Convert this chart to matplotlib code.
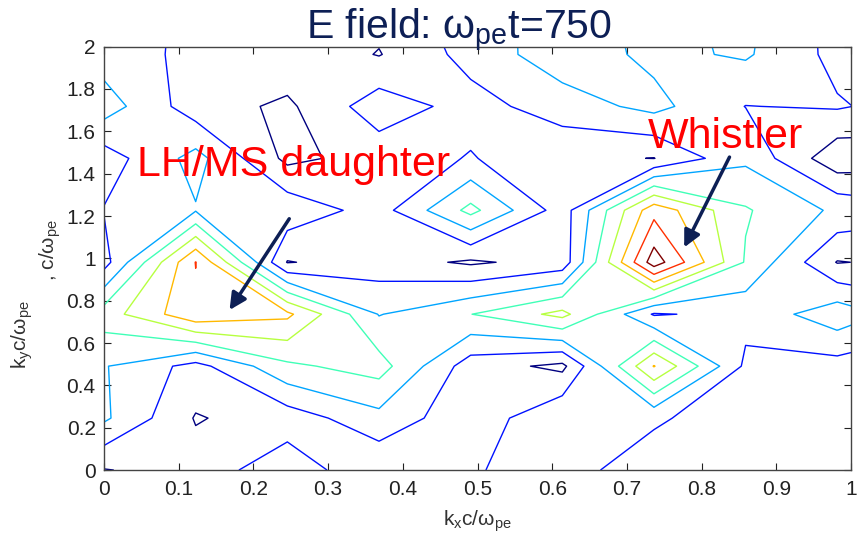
import numpy as np
import matplotlib.pyplot as plt

plt.rcParams['font.family'] = ['Liberation Sans', 'DejaVu Sans']
plt.rcParams['mathtext.fontset'] = 'custom'
plt.rcParams['mathtext.rm'] = 'Liberation Sans'
plt.rcParams['mathtext.it'] = 'Liberation Sans'

# grid of the spectrum (k in units of w_pe/c)
kx = np.arange(10) * 0.1227
ky = np.arange(10) * 0.2454

# |E|, rows = ky (bottom to top), columns = kx
E_mag = [
    [0.95, 1.42, 2.65, 1.15, 1.90, 2.50, 1.30, 1.50, 1.50, 1.50],
    [3.17, 0.93, 1.45, 2.68, 1.30, 2.95, 2.20, 1.20, 1.40, 1.50],
    [3.07, 1.64, 3.80, 4.43, 1.47, 0.75, 6.05, 1.80, 1.60, 1.50],
    [4.50, 6.77, 6.22, 2.95, 3.98, 5.30, 1.90, 2.30, 3.63, 2.30],
    [1.60, 7.03, 0.95, 1.45, 0.85, 1.39, 8.55, 3.90, 0.95, 1.30],
    [2.05, 2.93, 2.67, 1.57, 4.30, 1.50, 6.66, 4.10, 2.80, 2.20],
    [1.50, 3.35, 0.75, 1.40, 2.07, 1.20, 0.98, 2.80, 0.30, 0.60],
    [3.50, 1.45, 0.81, 2.56, 1.61, 2.50, 3.30, 1.98, 2.10, 1.50],
    [2.50, 1.75, 1.71, 0.95, 2.36, 3.60, 2.75, 3.13, 1.70, 1.30],
    [2.50, 1.80, 1.60, 1.40, 2.60, 3.40, 2.70, 3.30, 1.60, 1.50],
]
levels = [1, 2, 3, 4, 5, 6, 7, 8]

xticks = np.arange(0, 1.01, 0.1)
yticks = np.arange(0, 2.01, 0.2)
xtick_labels = ['0', '0.1', '0.2', '0.3', '0.4', '0.5', '0.6', '0.7', '0.8', '0.9', '1']
ytick_labels = ['0', '0.2', '0.4', '0.6', '0.8', '1', '1.2', '1.4', '1.6', '1.8', '2']

navy = '#0d1f55'

fig = plt.figure(figsize=(8.57, 5.36), dpi=100)
ax = fig.add_axes([0.1214, 0.123, 0.8716, 0.790])

line_colors = plt.cm.jet(np.linspace(0, 1, len(levels)))
ax.contour(kx, ky, np.array(E_mag), levels=levels, colors=line_colors, linewidths=1.0)

ax.set_xlim(0, 1)
ax.set_ylim(0, 2)
ax.set_xticks(xticks)
ax.set_xticklabels(xtick_labels)
ax.set_yticks(yticks)
ax.set_yticklabels(ytick_labels)
ax.tick_params(direction='in', length=5, top=True, right=True, labelsize=15,
               colors='#222222')
ax.tick_params(axis='x', pad=7)
ax.tick_params(axis='y', pad=6)
for lab in ax.get_xticklabels() + ax.get_yticklabels():
    lab.set_family(['Liberation Sans Narrow', 'Liberation Sans'])
for s in ax.spines.values():
    s.set_color('#444444')
    s.set_linewidth(1.0)

ax.set_xlabel(r'k$_x$c/$\omega_{pe}$', fontsize=15, color='#333333', labelpad=7)
fig.text(22 / 857, 1 - 335 / 536, r'k$_y$c/$\omega_{pe}$', fontsize=15, color='#333333',
         rotation=90, ha='center', va='center')
fig.text(50 / 857, 1 - 250 / 536, r', c/$\omega_{pe}$', fontsize=15, color='#333333',
         rotation=90, ha='center', va='center')

fig.text(0.536, 0.926, r'E field: $\omega_{pe}$t=750', fontsize=29.5, color=navy,
         ha='center', va='baseline')

# annotations
ax.text(0.044, 1.39, 'LH/MS daughter', color='red', fontsize=31)
ax.text(0.728, 1.52, 'Whistler', color='red', fontsize=31)
arrow = dict(arrowstyle='-|>,head_length=1.0,head_width=0.5', color=navy, lw=2.5)
ax.annotate('', xy=(0.166, 0.745), xytext=(0.25, 1.198), arrowprops=arrow)
ax.annotate('', xy=(0.775, 1.04), xytext=(0.839, 1.49), arrowprops=arrow)

fig.savefig('out.png', dpi=100)
